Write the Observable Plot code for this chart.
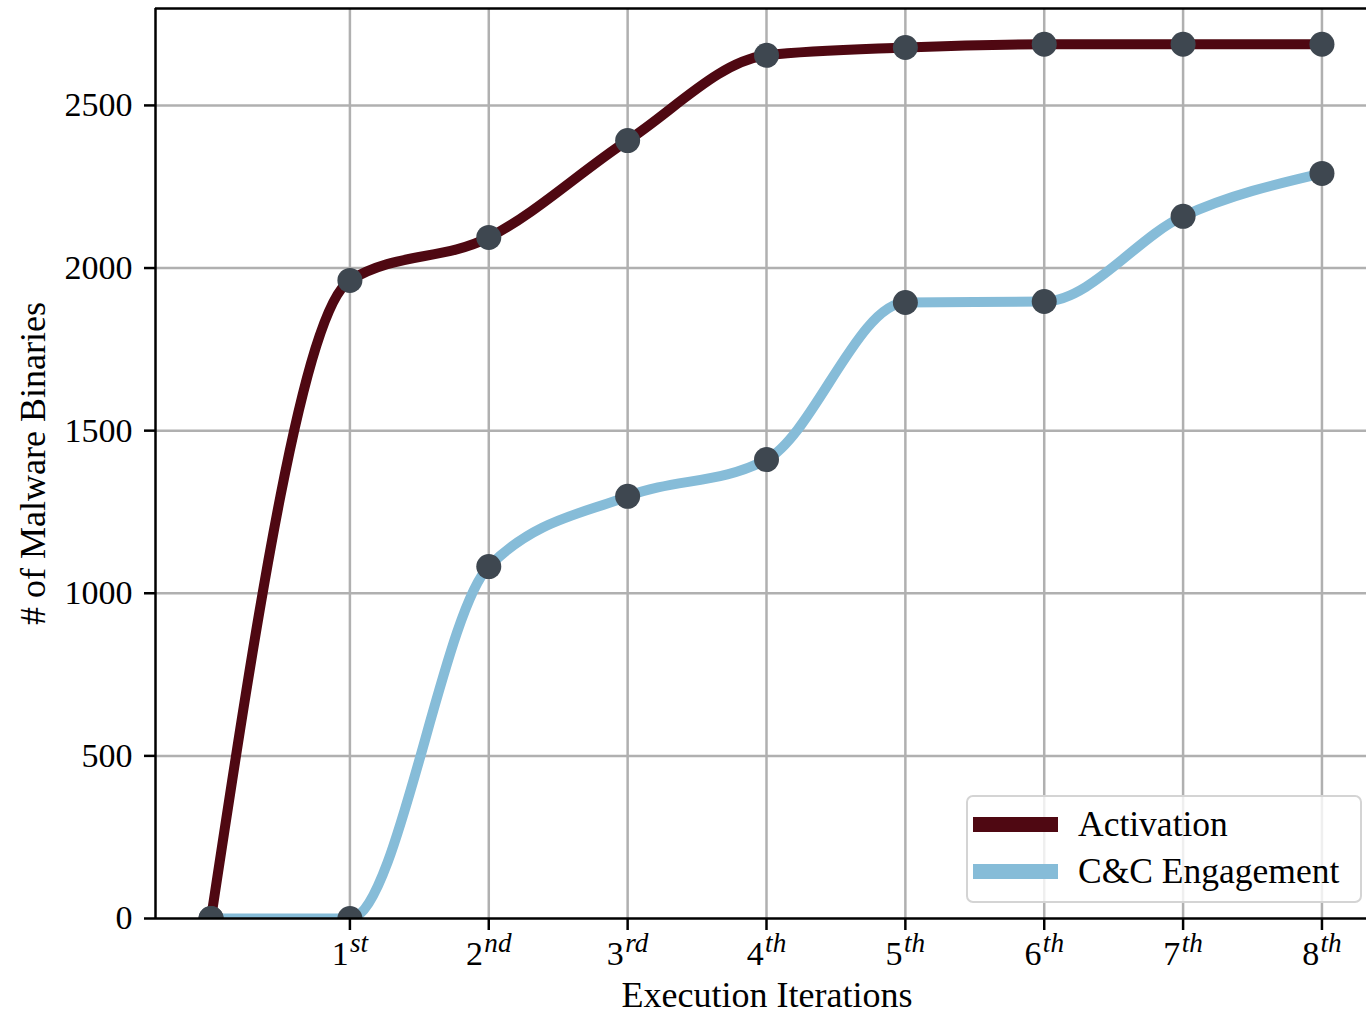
<!DOCTYPE html>
<html>
<head>
<meta charset="utf-8">
<script src="https://cdn.jsdelivr.net/npm/d3@7"></script>
<script src="https://cdn.jsdelivr.net/npm/@observablehq/plot@0.6"></script>
<style>
  html, body { margin: 0; padding: 0; background: #fff; overflow: hidden; }
  #wrap { position: relative; width: 1366px; height: 1015px; }
  #legend {
    position: absolute; left: 966px; top: 795px; width: 392px; height: 104px;
    border: 2px solid #d4d4d4; border-radius: 7px; background: rgba(255,255,255,0.8);
    font-family: "Liberation Serif", serif; font-size: 35.5px; color: #000;
  }
  .item { position: absolute; left: 5px; height: 46px; display: flex; align-items: center; }
  .sw { width: 85px; height: 15px; margin-right: 20px; }
</style>
</head>
<body>
<div id="wrap"></div>
<script>
const iterations = [0, 1, 2, 3, 4, 5, 6, 7, 8];
const activation = [0, 1962, 2094, 2392, 2654, 2678, 2688, 2688, 2688];
const ccEngagement = [0, 0, 1082, 1298, 1411, 1894, 1897, 2159, 2291];
const seriesNames = ["Activation", "C&C Engagement"];
const seriesColors = ["#4f0812", "#86bcd8"];
const tickValuesX = [1, 2, 3, 4, 5, 6, 7, 8];
const tickValuesY = [0, 500, 1000, 1500, 2000, 2500];
const suffix = {1: "st", 2: "nd", 3: "rd"};

const rows = [];
iterations.forEach((x, i) => {
  rows.push({x, y: activation[i], s: seriesNames[0]});
  rows.push({x, y: ccEngagement[i], s: seriesNames[1]});
});

const xDomain = [-0.4, 8.4];
const yDomain = [0, 2798];

const chart = Plot.plot({
  width: 1366,
  height: 1015,
  marginLeft: 155,
  marginRight: 0,
  marginTop: 8,
  marginBottom: 97,
  style: {fontFamily: "Liberation Serif, serif", fontSize: "34px", color: "#000", background: "#fff", overflow: "visible"},
  x: {domain: xDomain, range: [155, 1377], ticks: tickValuesX, tickSize: 12, tickPadding: 8, label: null},
  y: {domain: yDomain, ticks: tickValuesY, tickSize: 11, tickPadding: 12, label: null},
  color: {domain: seriesNames, range: seriesColors},
  marks: [
    Plot.gridX(tickValuesX, {stroke: "#b0b0b0", strokeOpacity: 1, strokeWidth: 2.5}),
    Plot.gridY(tickValuesY.filter(d => d > 0), {stroke: "#b0b0b0", strokeOpacity: 1, strokeWidth: 2.5}),
    Plot.line(rows, {x: "x", y: "y", z: "s", stroke: "s", strokeWidth: 10, curve: "monotone-x", clip: true}),
    Plot.dot(rows, {x: "x", y: "y", r: 12.5, fill: "#3e4750", stroke: "none", clip: true}),
    Plot.ruleX([xDomain[0]], {stroke: "#000", strokeWidth: 2.5}),
    Plot.ruleY([yDomain[0]], {stroke: "#000", strokeWidth: 2.5}),
    Plot.ruleY([yDomain[1]], {stroke: "#000", strokeWidth: 2.5}),
    Plot.axisX({ticks: tickValuesX, tickSize: 12, tickPadding: 10, strokeWidth: 2.5, tickFormat: d => String(d), label: null}),
    Plot.axisY({ticks: tickValuesY, tickSize: 11, tickPadding: 12, strokeWidth: 2.5, tickFormat: d => String(d), label: null}),
    Plot.text(["Execution Iterations"], {frameAnchor: "bottom", dx: 6, dy: 77, fontSize: 36, lineAnchor: "middle", textAnchor: "middle"}),
    Plot.text(["# of Malware Binaries"], {frameAnchor: "left", dx: -122, rotate: -90, fontSize: 36, textAnchor: "middle", lineAnchor: "middle"})
  ]
});

document.getElementById("wrap").appendChild(chart);

// superscript ordinal suffixes on the x tick labels
d3.select(chart).selectAll('g[aria-label="x-axis tick label"] text').each(function() {
  const t = d3.select(this);
  const n = +t.text();
  const suf = suffix[n] || "th";
  t.text(null);
  t.append("tspan").text(String(n));
  t.append("tspan").attr("dx", "0.05em").attr("dy", "-0.48em").attr("font-size", "0.8em").attr("font-style", "italic").text(suf);
});

// legend
const legend = document.createElement("div");
legend.id = "legend";
seriesNames.forEach((name, i) => {
  const item = document.createElement("div");
  item.className = "item";
  item.style.top = (4 + i * 47) + "px";
  const sw = document.createElement("div");
  sw.className = "sw";
  sw.style.background = seriesColors[i];
  const label = document.createElement("span");
  label.textContent = name;
  item.appendChild(sw);
  item.appendChild(label);
  legend.appendChild(item);
});
document.getElementById("wrap").appendChild(legend);
</script>
</body>
</html>
